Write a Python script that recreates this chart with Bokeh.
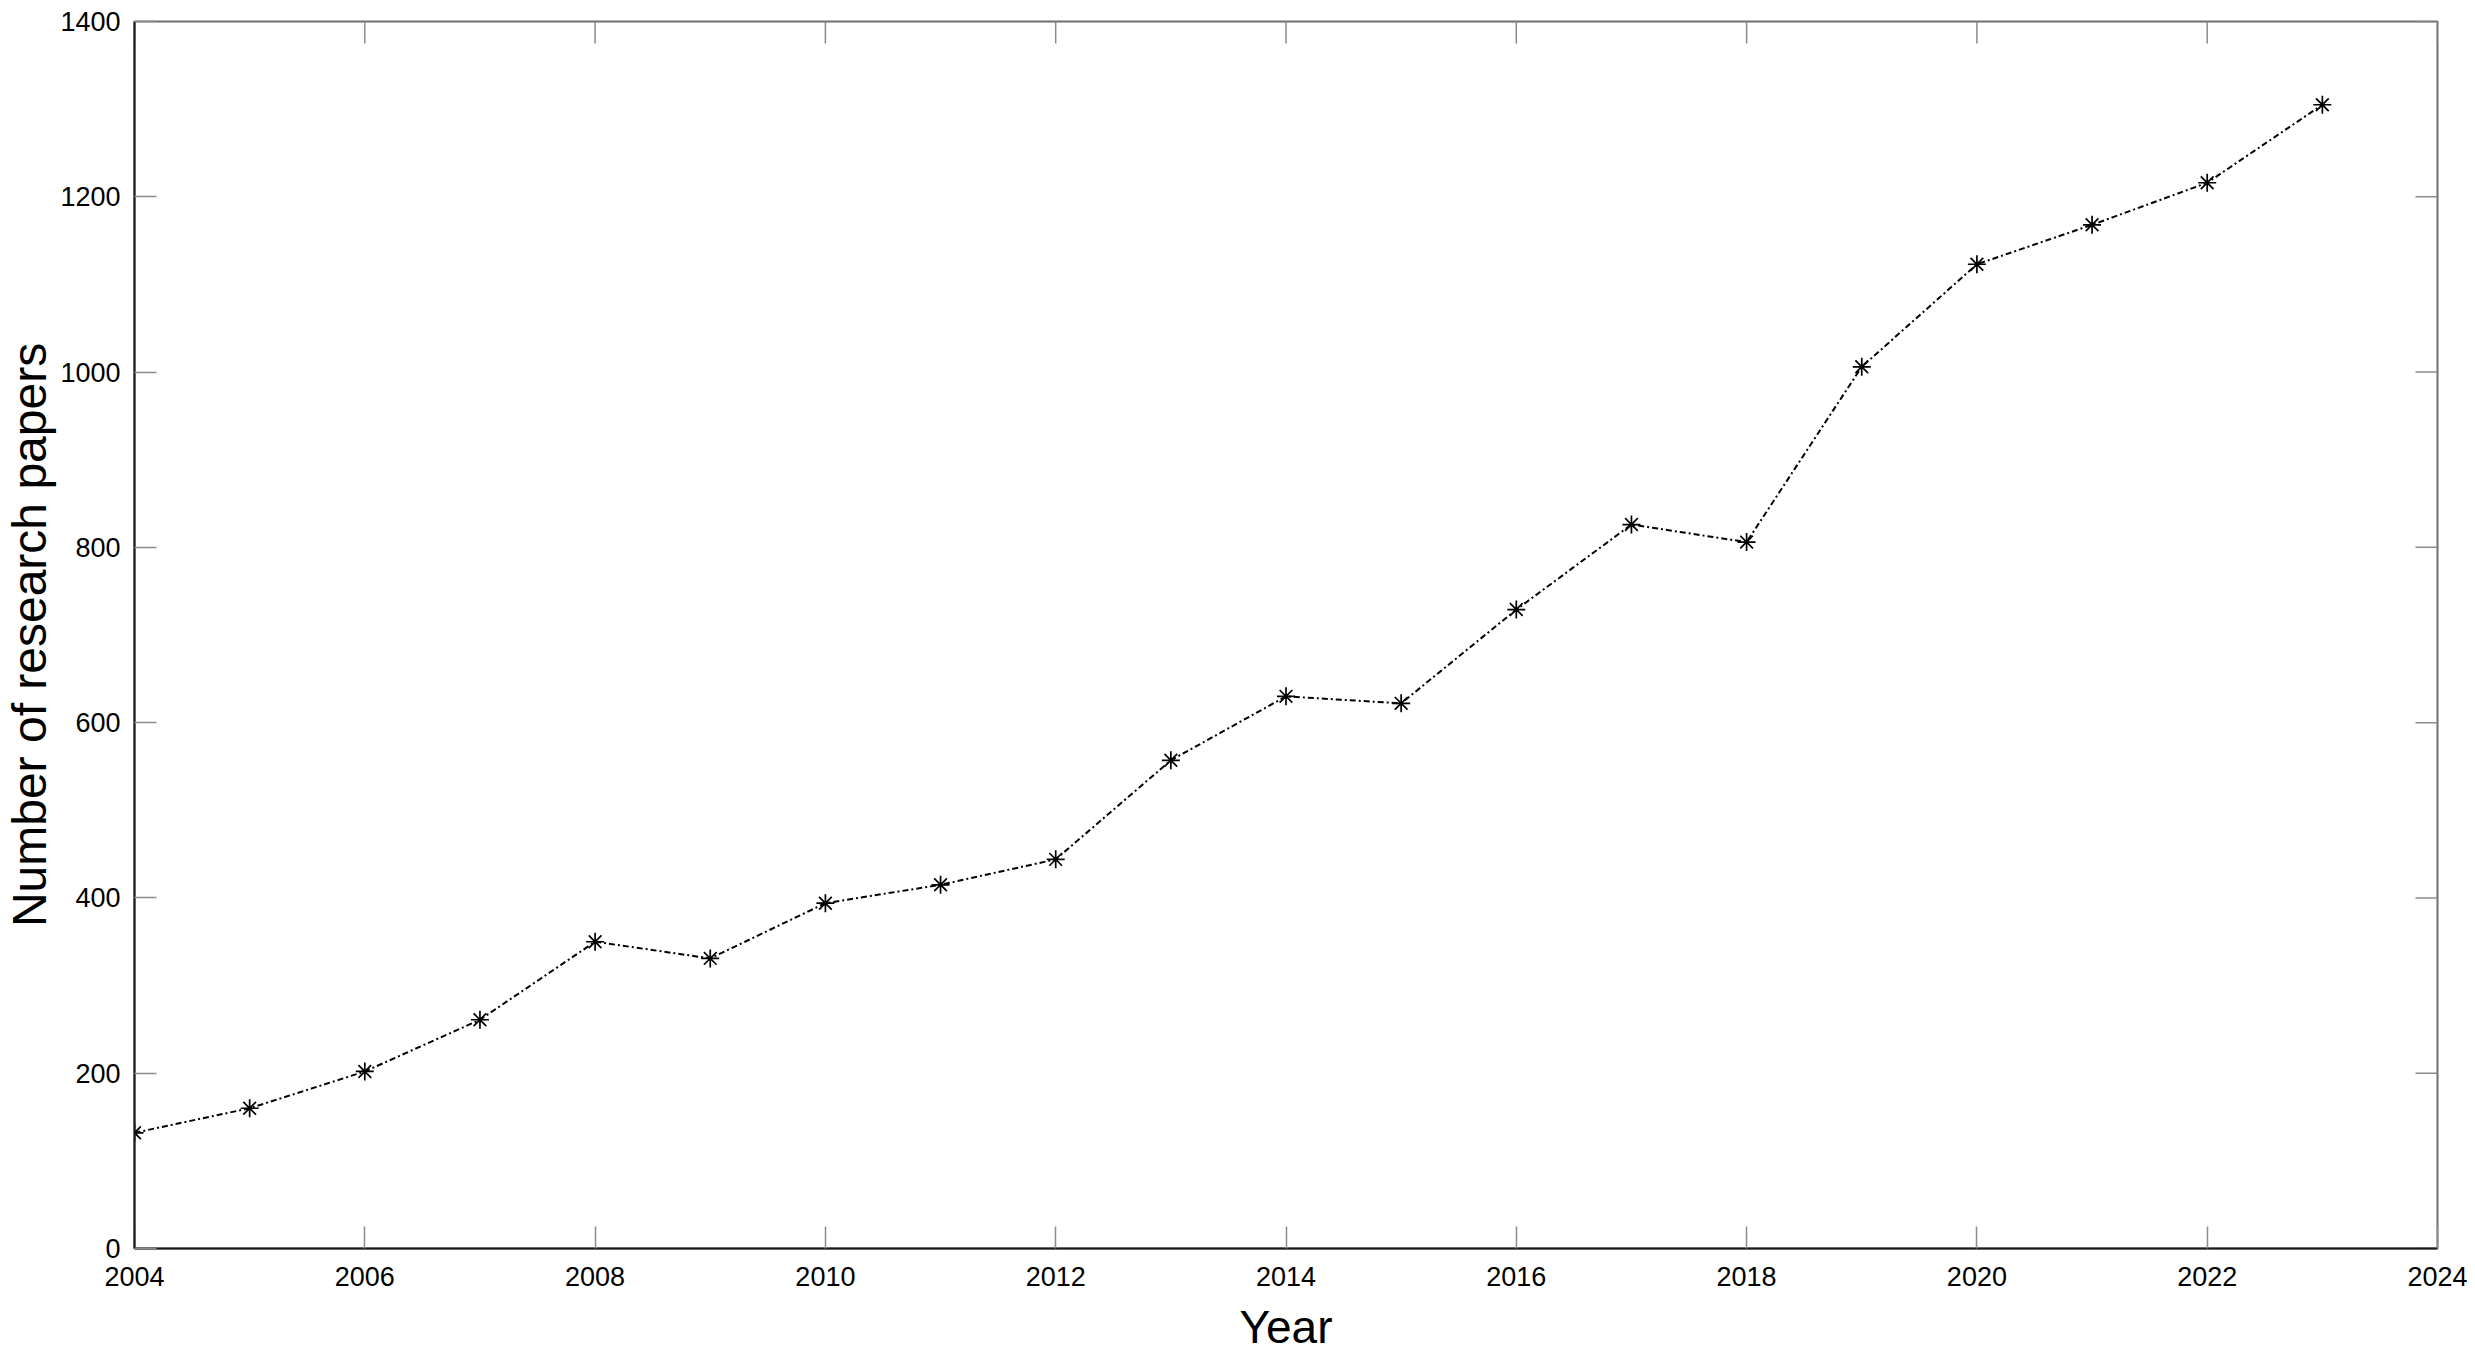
import math
from bokeh.plotting import figure
from bokeh.models import LinearAxis, FixedTicker, Range1d
from bokeh.embed import file_html
from bokeh.resources import INLINE

years = [2004, 2005, 2006, 2007, 2008, 2009, 2010, 2011, 2012, 2013,
         2014, 2015, 2016, 2017, 2018, 2019, 2020, 2021, 2022, 2023]
papers = [132, 160, 202, 261, 350, 331, 394, 415, 444, 557,
          630, 622, 729, 826, 806, 1006, 1123, 1168, 1216, 1305]
x_ticks = [2004, 2006, 2008, 2010, 2012, 2014, 2016, 2018, 2020, 2022, 2024]
y_ticks = [0, 200, 400, 600, 800, 1000, 1200, 1400]

FONT = "Liberation Sans"
X_MIN, X_MAX = x_ticks[0], x_ticks[-1]
Y_MIN, Y_MAX = y_ticks[0], y_ticks[-1]

p = figure(width=2467, height=1359, output_backend="svg", toolbar_location=None,
           x_range=Range1d(X_MIN, X_MAX), y_range=Range1d(Y_MIN, Y_MAX),
           min_border_left=126, min_border_right=30, min_border_top=21,
           min_border_bottom=111, x_axis_location=None, y_axis_location=None)
p.grid.visible = False
p.outline_line_color = "#6e6e6e"
p.outline_line_width = 2
p.background_fill_color = "white"
p.border_fill_color = "white"


def style(ax):
    ax.major_tick_in = 22
    ax.major_tick_out = 0
    ax.minor_tick_in = 0
    ax.minor_tick_out = 0
    ax.major_tick_line_color = "#8c8c8c"
    ax.major_tick_line_width = 1.5
    ax.axis_line_color = "#1a1a1a"
    ax.axis_line_width = 2
    ax.major_label_text_font = FONT
    ax.major_label_text_color = "black"
    ax.axis_label_text_font = FONT
    ax.axis_label_text_font_style = "normal"
    ax.axis_label_text_color = "black"


xb = LinearAxis(ticker=FixedTicker(ticks=x_ticks), axis_label="Year")
style(xb)
xb.major_label_text_font_size = "27px"
xb.major_label_standoff = 18
xb.axis_label_text_font_size = "46px"
xb.axis_label_standoff = 12
p.add_layout(xb, "below")

yl = LinearAxis(ticker=FixedTicker(ticks=y_ticks), axis_label="Number of research papers")
style(yl)
yl.major_label_text_font_size = "27px"
yl.major_label_standoff = 14
yl.axis_label_text_font_size = "48px"
yl.axis_label_standoff = 1
p.add_layout(yl, "left")

# inward ticks on the top and right sides of the box (no labels there)
p.ray(x=x_ticks, y=[Y_MAX] * len(x_ticks), length=22, length_units="screen",
      angle=-math.pi / 2, line_color="#8c8c8c", line_width=1.5)
p.ray(x=[X_MAX] * len(y_ticks), y=y_ticks, length=22, length_units="screen",
      angle=math.pi, line_color="#8c8c8c", line_width=1.5)

p.line(years, papers, line_color="black", line_width=2, line_dash="6 3 2 3")
p.scatter(years, papers, marker="asterisk", size=18, line_color="black", line_width=1.7)

open("out.html", "w").write(file_html(p, INLINE))
